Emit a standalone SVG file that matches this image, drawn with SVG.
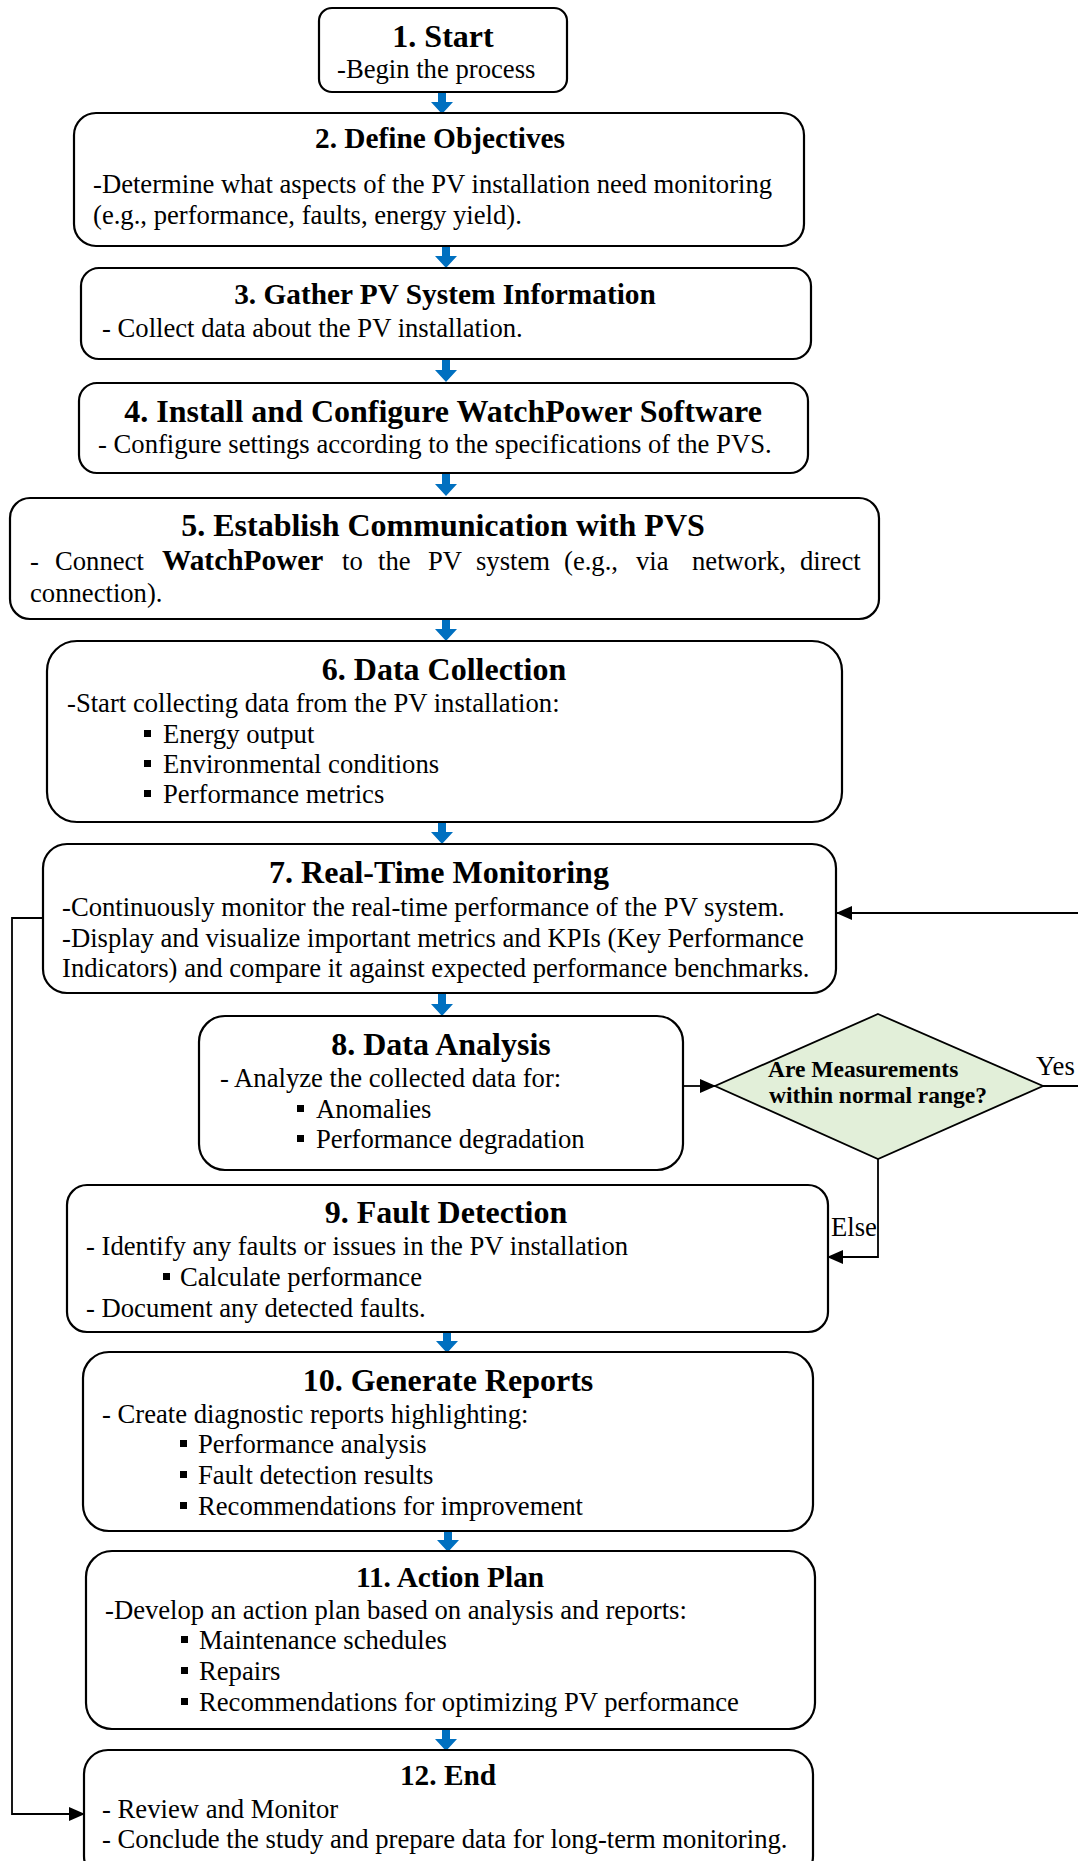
<svg xmlns="http://www.w3.org/2000/svg" width="1078" height="1861" viewBox="0 0 1078 1861">
<defs>
<style>
.box{fill:#fff;stroke:#000;stroke-width:2.2}
.t{font-family:"Liberation Serif","Times New Roman",serif;font-weight:bold;font-size:32px;text-anchor:middle;fill:#000}
.t2{font-family:"Liberation Serif","Times New Roman",serif;font-weight:bold;font-size:29.33px;text-anchor:middle;fill:#000}
.b{font-family:"Liberation Serif","Times New Roman",serif;font-size:26.67px;fill:#000}
.q{font-family:"Liberation Serif","Times New Roman",serif;font-weight:bold;font-size:23.5px;fill:#000}
.blt{fill:#000}
.flow{fill:#0070C0}
.line{fill:none;stroke:#000;stroke-width:1.8}
</style>
<marker id="ah" markerUnits="userSpaceOnUse" markerWidth="16" markerHeight="14" refX="15" refY="7" orient="auto">
<path d="M0,0 L16,7 L0,14 Z" fill="#000"/>
</marker>
<symbol id="down" overflow="visible">
<path d="M-4,0 L4,0 L4,10 L11,10 L0,22 L-11,10 L-4,10 Z"/>
</symbol>
</defs>

<g id="connectors">
<use href="#down" class="flow" x="442" y="92"/>
<use href="#down" class="flow" x="446" y="246"/>
<use href="#down" class="flow" x="446" y="360"/>
<use href="#down" class="flow" x="446" y="474"/>
<use href="#down" class="flow" x="446" y="619"/>
<use href="#down" class="flow" x="442" y="822"/>
<use href="#down" class="flow" x="442" y="994"/>
<use href="#down" class="flow" x="447" y="1331"/>
<use href="#down" class="flow" x="448" y="1530"/>
<use href="#down" class="flow" x="446" y="1729"/>
<path class="line" d="M43,918 H12 V1814 H84" marker-end="url(#ah)"/>
<path class="line" d="M1043,1086 H1082 V913 H837" marker-end="url(#ah)"/>
<path class="line" d="M683,1086 H715" marker-end="url(#ah)"/>
<path class="line" d="M878,1159 V1257 H828" marker-end="url(#ah)"/>
<text class="b" x="1036" y="1075">Yes</text>
<text class="b" x="831" y="1236">Else</text>
</g>

<g id="n1">
<rect class="box" x="319" y="8" width="248" height="84" rx="13"/>
<text class="t" x="443" y="47">1. Start</text>
<text class="b" x="337" y="78">-Begin the process</text>
</g>

<g id="n2">
<rect class="box" x="74" y="113" width="730" height="133" rx="22"/>
<text class="t2" x="440" y="148">2. Define Objectives</text>
<text class="b" x="93" y="193">-Determine what aspects of the PV installation need monitoring</text>
<text class="b" x="93" y="224">(e.g., performance, faults, energy yield).</text>
</g>

<g id="n3">
<rect class="box" x="81" y="268" width="730" height="91" rx="18"/>
<text class="t2" x="445" y="304">3. Gather PV System Information</text>
<text class="b" x="102" y="337">- Collect data about the PV installation.</text>
</g>

<g id="n4">
<rect class="box" x="79" y="383" width="729" height="90" rx="18"/>
<text class="t" x="443" y="422">4. Install and Configure WatchPower Software</text>
<text class="b" x="98" y="453">- Configure settings according to the specifications of the PVS.</text>
</g>

<g id="n5">
<rect class="box" x="10" y="498" width="869" height="121" rx="20"/>
<text class="t" x="443" y="536">5. Establish Communication with PVS</text>
<text class="b" y="570"><tspan x="30">-</tspan><tspan x="55">Connect</tspan><tspan x="162" font-weight="bold" font-size="29.33px">WatchPower</tspan><tspan x="342">to</tspan><tspan x="378">the</tspan><tspan x="428">PV</tspan><tspan x="476">system</tspan><tspan x="564">(e.g.,</tspan><tspan x="636">via</tspan><tspan x="692">network,</tspan><tspan x="800">direct</tspan></text>
<text class="b" x="30" y="602">connection).</text>
</g>

<g id="n6">
<rect class="box" x="47" y="641" width="795" height="181" rx="30"/>
<text class="t" x="444" y="680">6. Data Collection</text>
<text class="b" x="67" y="712">-Start collecting data from the PV installation:</text>
<rect class="blt" x="144" y="730" width="7" height="7"/>
<text class="b" x="163" y="743">Energy output</text>
<rect class="blt" x="144" y="760" width="7" height="7"/>
<text class="b" x="163" y="773">Environmental conditions</text>
<rect class="blt" x="144" y="790" width="7" height="7"/>
<text class="b" x="163" y="803">Performance metrics</text>
</g>

<g id="n7">
<rect class="box" x="43" y="844" width="793" height="149" rx="24"/>
<text class="t" x="439" y="883">7. Real-Time Monitoring</text>
<text class="b" x="62" y="916">-Continuously monitor the real-time performance of the PV system.</text>
<text class="b" x="62" y="947">-Display and visualize important metrics and KPIs (Key Performance</text>
<text class="b" x="62" y="977">Indicators) and compare it against expected performance benchmarks.</text>
</g>

<g id="n8">
<rect class="box" x="199" y="1016" width="484" height="154" rx="26"/>
<text class="t" x="441" y="1055">8. Data Analysis</text>
<text class="b" x="220" y="1087">- Analyze the collected data for:</text>
<rect class="blt" x="297" y="1105" width="7" height="7"/>
<text class="b" x="316" y="1118">Anomalies</text>
<rect class="blt" x="297" y="1135" width="7" height="7"/>
<text class="b" x="316" y="1148">Performance degradation</text>
</g>

<g id="decision">
<polygon points="878,1014 1043,1086 878,1159 715,1086" fill="#E2EFD9" stroke="#000" stroke-width="1.8"/>
<text class="q" x="768" y="1077">Are Measurements</text>
<text class="q" x="769" y="1103">within normal range?</text>
</g>

<g id="n9">
<rect class="box" x="67" y="1185" width="761" height="147" rx="20"/>
<text class="t" x="446" y="1223">9. Fault Detection</text>
<text class="b" x="86" y="1255">- Identify any faults or issues in the PV installation</text>
<rect class="blt" x="163" y="1273" width="7" height="7"/>
<text class="b" x="180" y="1286">Calculate performance</text>
<text class="b" x="86" y="1317">- Document any detected faults.</text>
</g>

<g id="n10">
<rect class="box" x="83" y="1352" width="730" height="179" rx="26"/>
<text class="t" x="448" y="1391">10. Generate Reports</text>
<text class="b" x="102" y="1423">- Create diagnostic reports highlighting:</text>
<rect class="blt" x="180" y="1440" width="7" height="7"/>
<text class="b" x="198" y="1453">Performance analysis</text>
<rect class="blt" x="180" y="1471" width="7" height="7"/>
<text class="b" x="198" y="1484">Fault detection results</text>
<rect class="blt" x="180" y="1502" width="7" height="7"/>
<text class="b" x="198" y="1515">Recommendations for improvement</text>
</g>

<g id="n11">
<rect class="box" x="86" y="1551" width="729" height="178" rx="26"/>
<text class="t2" x="450" y="1587">11. Action Plan</text>
<text class="b" x="105" y="1619">-Develop an action plan based on analysis and reports:</text>
<rect class="blt" x="181" y="1636" width="7" height="7"/>
<text class="b" x="199" y="1649">Maintenance schedules</text>
<rect class="blt" x="181" y="1667" width="7" height="7"/>
<text class="b" x="199" y="1680">Repairs</text>
<rect class="blt" x="181" y="1698" width="7" height="7"/>
<text class="b" x="199" y="1711">Recommendations for optimizing PV performance</text>
</g>

<g id="n12">
<rect class="box" x="84" y="1750" width="729" height="130" rx="24"/>
<text class="t2" x="448" y="1785">12. End</text>
<text class="b" x="102" y="1818">- Review and Monitor</text>
<text class="b" x="102" y="1848">- Conclude the study and prepare data for long-term monitoring.</text>
</g>
</svg>
